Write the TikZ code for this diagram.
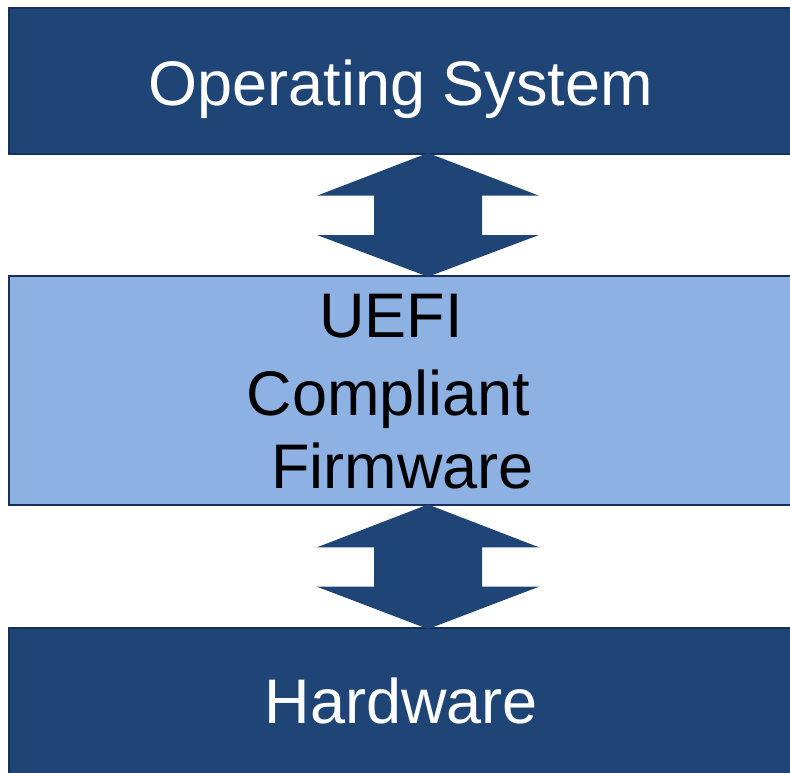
\documentclass[tikz,border=0pt]{standalone}
\usepackage{fontspec}
\setmainfont{Liberation Sans}
\definecolor{layerdark}{RGB}{31,69,119}
\definecolor{layerlight}{RGB}{141,177,226}
\definecolor{layerline}{RGB}{22,50,90}
\begin{document}
\begin{tikzpicture}[x=1pt,y=-1pt,
  layer/.style={draw=layerline,line width=2pt,inner sep=0pt},
  darklayer/.style={layer,fill=layerdark},
  lightlayer/.style={layer,fill=layerlight},
  lbl/.style={anchor=base,inner sep=0pt,font=\fontsize{63}{76}\selectfont},
  link/.style={fill=layerdark,draw=none}]
\useasboundingbox (0,0) rectangle (790,772);
\clip (0,0) rectangle (790,772);
% the three layers (they run past the right and bottom edges)
\path[darklayer] (9,8) rectangle (810,154);
\path[lightlayer] (9,276) rectangle (810,505);
\path[darklayer] (9,628) rectangle (810,800);
% layer captions
\node[lbl,text=white] (ostext) at (401,105) {Operating System};
\node[lbl] (uefi) at (391,337) {UEFI};
\node[lbl] (compliant) at (388.5,415) {Compliant};
\node[lbl] (firmware) at (402.5,488) {Firmware};
\node[lbl,text=white] (hwtext) at (401.5,723) {Hardware};
% two-way links between the layers
\foreach \top/\hb/\lb/\bot in {153/195.7/235/276.7, 504.5/547.3/586.7/629}{
  \fill[link] (428,\top) -- (539,\hb) -- (482,\hb) -- (482,\lb) -- (539,\lb)
    -- (428,\bot) -- (317,\lb) -- (374,\lb) -- (374,\hb) -- (317,\hb) -- cycle;
}
\end{tikzpicture}
\end{document}
